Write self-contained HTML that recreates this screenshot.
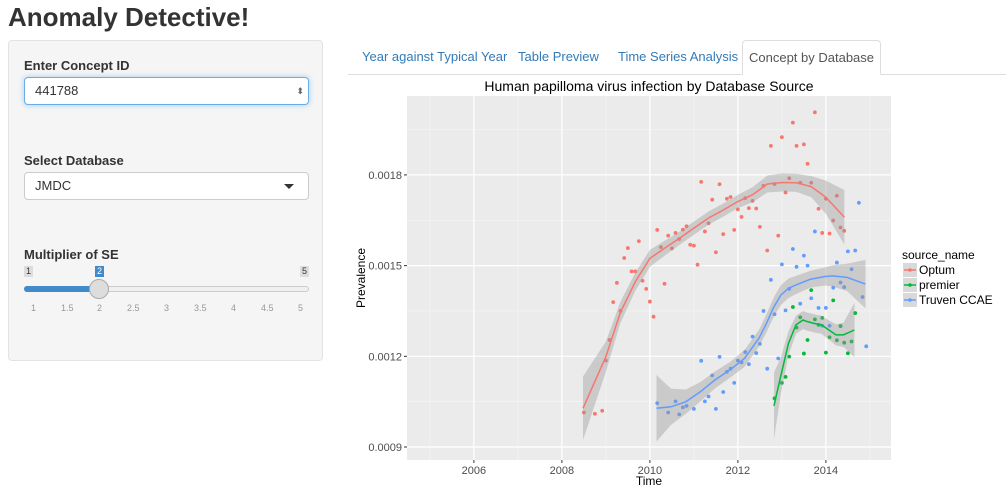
<!DOCTYPE html>
<html><head><meta charset="utf-8">
<style>
body{margin:0;width:1006px;height:503px;background:#fff;font-family:"Liberation Sans",sans-serif;position:relative;overflow:hidden;color:#333}
.abs{position:absolute}
h1{position:absolute;left:8px;top:2px;margin:0;font-size:26px;font-weight:bold;color:#333}
.side{left:8px;top:40px;width:315px;height:321px;background:#f5f5f5;border:1px solid #e3e3e3;border-radius:4px;box-sizing:border-box}
.lbl{font-size:13px;font-weight:bold;color:#333}
.inp{border:1px solid #ccc;border-radius:4px;background:#fff;box-sizing:border-box;font-size:13px;padding-left:10px;line-height:26px}
.tab{font-size:13px;color:#337ab7;top:49px}
.tk{font-size:9px;color:#999;top:303px}
</style></head><body>
<h1>Anomaly Detective!</h1>
<div class="abs side"></div>
<div class="abs lbl" style="left:24px;top:58px">Enter Concept ID</div>
<div class="abs inp" style="left:24px;top:77px;width:285px;height:28px;border-color:#66afe9;box-shadow:0 0 6px rgba(102,175,233,.6)">441788<span style="position:absolute;right:4px;top:0;font-size:9px;color:#666">⬍</span></div>
<div class="abs lbl" style="left:24px;top:153px">Select Database</div>
<div class="abs inp" style="left:24px;top:172px;width:285px;height:28px">JMDC<span style="position:absolute;right:14px;top:11px;width:0;height:0;border-left:5px solid transparent;border-right:5px solid transparent;border-top:5px solid #333"></span></div>
<div class="abs lbl" style="left:24px;top:247px">Multiplier of SE</div>
<div class="abs" style="left:24px;top:266px;font-size:9px;background:#ddd;color:#333;padding:0 2px;line-height:11px">1</div>
<div class="abs" style="left:95px;top:266px;font-size:9px;background:#428bca;color:#fff;padding:0 2px;line-height:11px">2</div>
<div class="abs" style="left:300px;top:266px;font-size:9px;background:#ddd;color:#333;padding:0 2px;line-height:11px">5</div>
<div class="abs" style="left:24px;top:286px;width:285px;height:6px;border:1px solid #ccc;border-radius:3px;background:#f0f0f0;box-sizing:border-box"></div>
<div class="abs" style="left:24px;top:286px;width:75px;height:6px;border-radius:3px;background:#428bca"></div>
<div class="abs" style="left:89px;top:279px;width:20px;height:20px;border-radius:50%;background:#ddd;border:1px solid #aaa;box-sizing:border-box"></div>
<div class="abs tk" style="left:31px">1</div><div class="abs tk" style="left:61px">1.5</div><div class="abs tk" style="left:97px">2</div><div class="abs tk" style="left:127px">2.5</div><div class="abs tk" style="left:164px">3</div><div class="abs tk" style="left:194px">3.5</div><div class="abs tk" style="left:231px">4</div><div class="abs tk" style="left:261px">4.5</div><div class="abs tk" style="left:298px">5</div>

<div class="abs" style="left:348px;top:74px;width:658px;height:1px;background:#ddd"></div>
<div class="abs tab" style="left:362px">Year against Typical Year</div>
<div class="abs tab" style="left:518px">Table Preview</div>
<div class="abs tab" style="left:618px">Time Series Analysis</div>
<div class="abs" style="left:742px;top:40px;width:139px;height:35px;border:1px solid #ddd;border-bottom-color:#fff;border-radius:4px 4px 0 0;background:#fff;box-sizing:border-box;font-size:13px;color:#555;text-align:center;line-height:33px">Concept by Database</div>

<svg class="abs" style="left:0;top:0" width="1006" height="503" id="chart"></svg>
<script>
const optumStart=[2008,7];
const optumVals=[0.001014,null,null,0.001010,null,0.001020,
0.001186,0.001254,0.001379,0.001443,0.001350,0.001525,0.001558,0.001481,0.001481,0.001581,0.001450,0.001423,
0.001381,0.001331,0.001618,0.001561,0.001440,0.001599,0.001557,0.001608,0.001588,0.001619,0.001630,0.001569,
0.001566,0.001503,0.001777,0.001613,0.001640,0.001718,0.001544,0.001769,0.001604,0.001721,0.001727,0.001618,
0.001686,0.001661,0.001723,0.001690,0.001714,0.001689,0.001628,0.001764,0.001550,0.001896,0.001770,0.001599,
0.001925,0.001742,0.001789,0.001973,0.001896,0.001774,0.001901,0.001837,0.001774,0.002007,0.001688,0.001608,
0.001721,0.001606,0.001649,0.001731,0.001626,0.001615];
const truvenStart=[2010,3];
const truvenVals=[0.001045,null,null,0.001014,null,0.001051,0.001008,0.001031,0.001036,null,0.001026,null,
0.001185,0.001051,0.001067,0.001137,0.001026,0.001198,0.001082,0.001149,0.001159,0.001112,
0.001186,0.001180,0.001214,0.001174,0.001265,0.001211,0.001241,0.001350,0.001159,0.001453,0.001339,0.001193,
0.001504,0.001352,0.001423,0.001555,0.001496,0.001374,0.001533,0.001500,0.001392,0.001613,0.001360,0.001301,
0.001360,0.001301,0.001427,0.001510,0.001444,0.001429,0.001547,0.001488,0.001550,0.001708,0.001396,0.001233];
const premierStart=[2012,11];
const premierVals=[0.001061,null,0.001112,0.001132,0.001199,0.001363,0.001295,0.001329,0.001209,0.001254,0.001419,0.001322,0.001304,0.001327,
0.001212,0.001263,0.001385,0.001253,0.001300,0.001245,0.001210,0.001249,0.001343];
const optumFitX=[2008.48,2009,2009.33,2009.67,2010,2010.33,2010.67,2011,2011.33,2011.67,2012,2012.33,2012.67,2013,2013.33,2013.67,2014,2014.42];
const optumFitY=[0.001028,0.001199,0.001345,0.001447,0.001524,0.001557,0.001590,0.001624,0.001657,0.001684,0.001712,0.001734,0.001770,0.001775,0.001774,0.001761,0.001726,0.001660];
const optumFitSE=[0.000105,0.00005,0.000035,0.00003,0.000028,0.000025,0.000022,0.000022,0.000022,0.000022,0.000022,0.000025,0.000028,0.00003,0.00003,0.000035,0.000055,0.00009];
const truvenFitX=[2010.15,2010.48,2010.82,2011.15,2011.48,2011.82,2012.15,2012.48,2012.65,2012.82,2012.98,2013.15,2013.32,2013.65,2013.98,2014.15,2014.48,2014.9];
const truvenFitY=[0.001028,0.001033,0.001050,0.001083,0.001122,0.001155,0.001193,0.001260,0.001309,0.001364,0.001403,0.001425,0.001436,0.001455,0.001464,0.001466,0.001461,0.001439];
const truvenFitSE=[0.00011,0.00006,0.00004,0.000032,0.000028,0.000026,0.000028,0.000028,0.00003,0.000032,0.000033,0.000032,0.00003,0.000028,0.00003,0.000035,0.000045,0.00008];
const premierFitX=[2012.82,2012.98,2013.15,2013.32,2013.48,2013.57,2013.73,2013.9,2014.07,2014.23,2014.4,2014.65];
const premierFitY=[0.001036,0.001138,0.001243,0.001304,0.001320,0.001315,0.001309,0.001304,0.001287,0.001271,0.001271,0.001287];
const premierFitSE=[0.00011,0.00006,0.00004,0.00003,0.00003,0.00003,0.00003,0.00003,0.000032,0.000035,0.00004,0.00009];
const xTicks=[2006,2008,2010,2012,2014];
const yTicks=[0.0009,0.0012,0.0015,0.0018];
const yTickLabels=["0.0009","0.0012","0.0015","0.0018"];
const seriesNames=["Optum","premier","Truven CCAE"];

const NS="http://www.w3.org/2000/svg";
const svg=document.getElementById('chart');
const PL=407,PR=891,PT=96,PB=460;
const X0=2004.48,X1=2015.48,Y0=0.000857,Y1=0.002061;
const sx=v=>PL+(v-X0)/(X1-X0)*(PR-PL);
const sy=v=>PB-(v-Y0)/(Y1-Y0)*(PB-PT);
function mk(tag,attrs,parent){const e=document.createElementNS(NS,tag);for(const k in attrs)e.setAttribute(k,attrs[k]);(parent||svg).appendChild(e);return e;}
const bg=mk('rect',{x:PL,y:PT,width:PR-PL,height:PB-PT,fill:'#ebebeb'});


for(let y=2005;y<=2015;y+=2){mk('line',{x1:sx(y),x2:sx(y),y1:PT,y2:PB,stroke:'#f5f5f5','stroke-width':0.6});}
for(let i=0;i<yTicks.length-1;i++){const m=(yTicks[i]+yTicks[i+1])/2;mk('line',{x1:PL,x2:PR,y1:sy(m),y2:sy(m),stroke:'#f5f5f5','stroke-width':0.6});}
mk('line',{x1:PL,x2:PR,y1:sy(0.00195),y2:sy(0.00195),stroke:'#f5f5f5','stroke-width':0.6});
xTicks.forEach(t=>{const g=mk('line',{x1:sx(t),x2:sx(t),y1:PT,y2:PB,stroke:'#fff','stroke-width':1.2});


mk('line',{x1:sx(t),x2:sx(t),y1:PB,y2:PB+3,stroke:'#333'});
const tx=mk('text',{x:sx(t),y:PB+14,'text-anchor':'middle','font-size':11,fill:'#4d4d4d'});tx.textContent=t;

});
yTicks.forEach((t,i)=>{const g=mk('line',{x1:PL,x2:PR,y1:sy(t),y2:sy(t),stroke:'#fff','stroke-width':1.2});


mk('line',{x1:PL-3,x2:PL,y1:sy(t),y2:sy(t),stroke:'#333'});
const tx=mk('text',{x:PL-5,y:sy(t)+4,'text-anchor':'end','font-size':11,fill:'#4d4d4d'});tx.textContent=yTickLabels[i];

});
const colors=['#f8766d','#00ba38','#619cff'];
function pts(start,vals){const r=[];vals.forEach((v,i)=>{if(v==null)return;const t=start[0]+(start[1]-1+i)/12;r.push([t,v]);});return r;}
function ribbon(xs,ys,se,name){let d='';xs.forEach((x,i)=>{d+=(i?'L':'M')+sx(x)+','+sy(ys[i]+se[i]);});
for(let i=xs.length-1;i>=0;i--)d+='L'+sx(xs[i])+','+sy(ys[i]-se[i]);
const p=mk('path',{d:d+'Z',fill:'#999','fill-opacity':0.4});

}
function line(xs,ys,c,name){const p=mk('path',{d:xs.map((x,i)=>(i?'L':'M')+sx(x)+','+sy(ys[i])).join(''),fill:'none',stroke:c,'stroke-width':1.5});

}
function dots(arr,c,name){arr.forEach(([t,v])=>{const e=mk('circle',{cx:sx(t),cy:sy(v),r:1.9,fill:c});

});}
dots(pts(optumStart,optumVals),colors[0],'optum');
dots(pts(premierStart,premierVals),colors[1],'premier');
dots(pts(truvenStart,truvenVals),colors[2],'truven');
ribbon(optumFitX,optumFitY,optumFitSE,'optum');
ribbon(truvenFitX,truvenFitY,truvenFitSE,'truven');
ribbon(premierFitX,premierFitY,premierFitSE,'premier');
line(optumFitX,optumFitY,colors[0],'optum');
line(truvenFitX,truvenFitY,colors[2],'truven');
line(premierFitX,premierFitY,colors[1],'premier');
const tt=mk('text',{x:(PL+PR)/2,y:91,'text-anchor':'middle','font-size':14,fill:'#000'});tt.textContent='Human papilloma virus infection by Database Source';


const xl=mk('text',{x:(PL+PR)/2,y:485,'text-anchor':'middle','font-size':12,fill:'#000'});xl.textContent='Time';


const yl=mk('text',{x:0,y:0,'text-anchor':'middle','font-size':12,fill:'#000',transform:'translate(365,278) rotate(-90)'});yl.textContent='Prevalence';


const lt=mk('text',{x:902,y:259,'font-size':12,fill:'#000'});lt.textContent='source_name';


seriesNames.forEach((n,i)=>{const y=263+i*15;
const g=mk('g',{});


mk('rect',{x:903,y:y,width:14,height:14,fill:'#d9d9d9'},g);
mk('line',{x1:904,x2:916,y1:y+7,y2:y+7,stroke:colors[i],'stroke-width':1.5},g);
mk('circle',{cx:910,cy:y+7,r:1.8,fill:colors[i]},g);
const t=mk('text',{x:919,y:y+11,'font-size':12,fill:'#000'},g);t.textContent=n;});
</script>
</body></html>
